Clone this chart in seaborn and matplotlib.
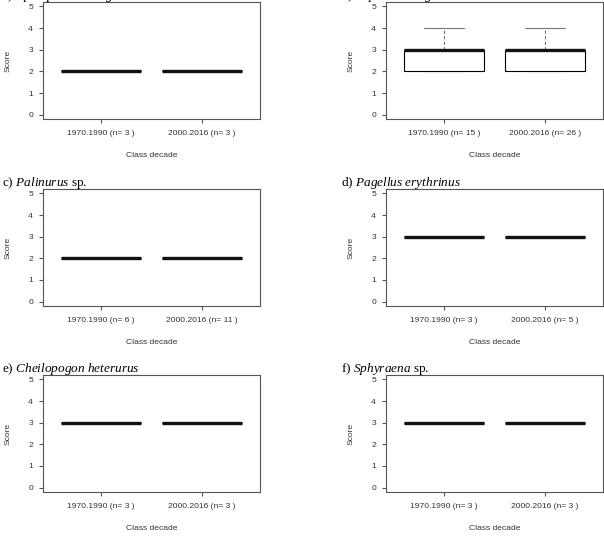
import pandas as pd
import matplotlib
matplotlib.use("Agg")
import matplotlib.pyplot as plt
import seaborn as sns

# class decades on the x axis
decades = ["1970.1990", "2000.2016"]

# panel titles (species in italics)
titles = [
    "a) $\\mathit{Epinephelus\\ marginatus}$",
    "b) $\\mathit{Diplodus\\ sargus}$",
    "c) $\\mathit{Palinurus}$ sp.",
    "d) $\\mathit{Pagellus\\ erythrinus}$",
    "e) $\\mathit{Cheilopogon\\ heterurus}$",
    "f) $\\mathit{Sphyraena}$ sp.",
]

# scores per decade, one pair per panel
a_1970 = [2, 2, 2]
a_2000 = [2, 2, 2]
b_1970 = [2, 2, 2, 2, 2, 3, 3, 3, 3, 3, 3, 3, 4, 4, 4]
b_2000 = [2, 2, 2, 2, 2, 2, 2, 2, 3, 3, 3, 3, 3, 3, 3, 3, 3, 3, 3, 3,
          4, 4, 4, 4, 4, 4]
c_1970 = [2, 2, 2, 2, 2, 2]
c_2000 = [2, 2, 2, 2, 2, 2, 2, 2, 2, 2, 2]
d_1970 = [3, 3, 3]
d_2000 = [3, 3, 3, 3, 3]
e_1970 = [3, 3, 3]
e_2000 = [3, 3, 3]
f_1970 = [3, 3, 3]
f_2000 = [3, 3, 3]

panels = [
    (a_1970, a_2000), (b_1970, b_2000),
    (c_1970, c_2000), (d_1970, d_2000),
    (e_1970, e_2000), (f_1970, f_2000),
]

sns.set_theme(style="white")
plt.rcParams["font.family"] = ["Liberation Sans", "DejaVu Sans"]
plt.rcParams["mathtext.fontset"] = "custom"
plt.rcParams["mathtext.it"] = "Liberation Serif:italic"
plt.rcParams["mathtext.rm"] = "Liberation Serif"

W, H = 604, 537
fig = plt.figure(figsize=(W / 100, H / 100), dpi=100)
fig.patch.set_facecolor("white")

col_left = [43, 386]
title_left = [2, 341]
row_top = [2, 189, 375]
aw, ah = 217, 117
text_col = "#333333"
frame_col = "#555555"


def draw_panel(ax, first, second):
    labels = [f"{decades[0]} (n= {len(first)} )",
              f"{decades[1]} (n= {len(second)} )"]
    df = pd.DataFrame({
        "decade": [labels[0]] * len(first) + [labels[1]] * len(second),
        "score": first + second,
    })
    sns.boxplot(data=df, x="decade", y="score", order=labels, ax=ax,
                width=0.8, color="white", linecolor="black", linewidth=0.8,
                showfliers=False,
                medianprops={"linewidth": 2.4, "color": "#111111"},
                whiskerprops={"linestyle": (0, (3, 2)), "color": "#777777"},
                capprops={"color": "#777777"})
    # keep caps under the box edges (lower cap sits on the box bottom)
    for ln in ax.lines:
        if ln.get_color() == "#777777":
            ln.set_zorder(1)
    ax.set_xlim(-0.58, 1.58)
    ax.set_ylim(-0.2, 5.2)
    ax.set_yticks(range(6))
    ax.set_xlabel("Class decade", fontsize=6.1, color=text_col)
    ax.set_ylabel("Score", fontsize=6.1, color=text_col)
    ax.xaxis.set_label_coords(0.5, -(156 - 119) / ah)
    ax.xaxis.label.set_va("center")
    ax.yaxis.set_label_coords((8 - 43) / aw, 0.5)
    ax.yaxis.label.set_va("center")
    ax.tick_params(axis="both", length=2.9, width=0.8, color=frame_col,
                   labelsize=6.1, labelcolor=text_col, left=True, bottom=True)
    ax.tick_params(axis="y", pad=4.3)
    ax.tick_params(axis="x", pad=5)
    for sp in ax.spines.values():
        sp.set_color(frame_col)
        sp.set_linewidth(0.8)
        sp.set_visible(True)


for i, (first, second) in enumerate(panels):
    row, col = divmod(i, 2)
    x0 = col_left[col] / W
    y0 = 1 - (row_top[row] + ah) / H
    ax = fig.add_axes([x0, y0, aw / W, ah / H])
    draw_panel(ax, first, second)
    fig.text(title_left[col] / W, 1 - (row_top[row] - 3) / H, titles[i],
             fontsize=9.5, family="Liberation Serif", va="baseline",
             color="black")

fig.savefig("out.png", dpi=100)
